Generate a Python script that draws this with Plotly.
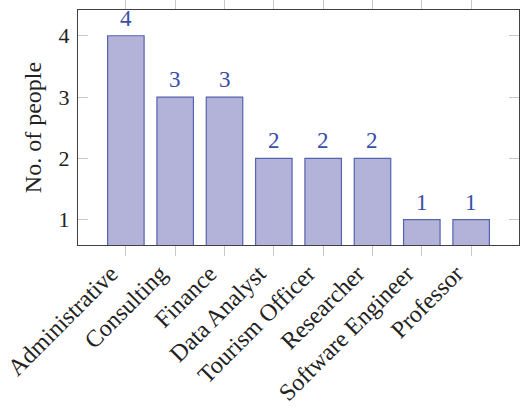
import plotly.graph_objects as go

categories = ["Administrative", "Consulting", "Finance", "Data Analyst",
              "Tourism Officer", "Researcher", "Software Engineer", "Professor"]
counts = [4, 3, 3, 2, 2, 2, 1, 1]
y_ticks = [1, 2, 3, 4]

FONT = "Liberation Serif"
TEXT_BLUE = "#3a4ea6"

fig = go.Figure()
fig.add_trace(go.Bar(
    x=categories, y=counts, width=0.74,
    marker=dict(color="#b3b3d9", line=dict(color="#5563b0", width=1.2)),
    hoverinfo="skip",
))
for c, v in zip(categories, counts):
    fig.add_annotation(x=c, y=v, text=str(v), showarrow=False,
                       yanchor="bottom", yshift=3,
                       font=dict(family=FONT, size=23, color=TEXT_BLUE))

fig.update_layout(
    width=520, height=407,
    margin=dict(l=78, r=1, t=10, b=162, autoexpand=False),
    paper_bgcolor="white", plot_bgcolor="white",
    showlegend=False,
    font=dict(family=FONT, size=23, color="#222222"),
)
fig.update_xaxes(
    range=[-0.97, 7.97], tickangle=-45, automargin=False,
    ticklabelshift=-15, ticklabelstandoff=-6,
    ticks="outside", ticklen=10, tickcolor="#c8c8c8", tickwidth=1,
    showline=True, linecolor="#404040", linewidth=1.2, mirror="ticks",
    showgrid=False, tickfont=dict(family=FONT, size=24, color="#222222"),
)
fig.update_yaxes(
    range=[0.587, 4.42], tickvals=y_ticks, automargin=False,
    ticklabelstandoff=3,
    ticks="inside", ticklen=10, tickcolor="#c8c8c8", tickwidth=1,
    showline=True, linecolor="#404040", linewidth=1.2, mirror="ticks",
    showgrid=False, zeroline=False,
    tickfont=dict(family=FONT, size=22, color="#222222"),
    title=dict(text="No. of people", font=dict(family=FONT, size=24, color="#222222"), standoff=10),
)

fig.write_html("out.html")
